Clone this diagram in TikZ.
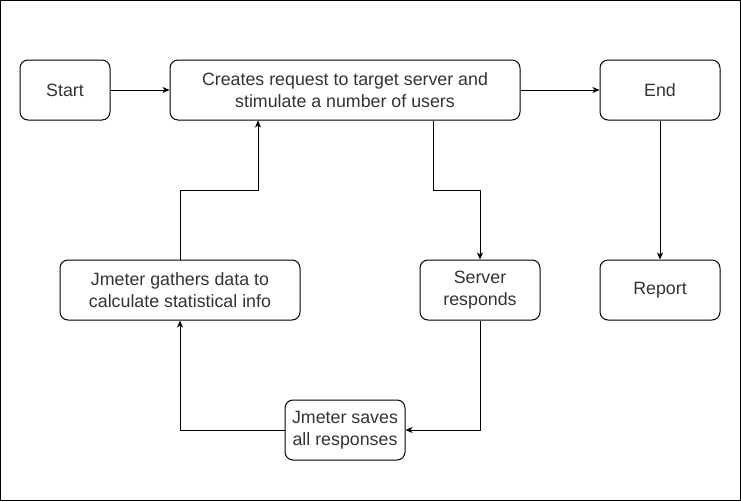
\documentclass[tikz,border=0pt]{standalone}
\usepackage{fontspec}
\setmainfont{Liberation Sans}
\usetikzlibrary{arrows.meta}
\begin{document}
\begin{tikzpicture}[x=1pt,y=-1pt,
  box/.style={draw=black,line width=1pt,rounded corners=8pt,fill=white,inner sep=0pt,
    text=black!80,font=\fontsize{17.8}{22}\selectfont,align=center},
  conn/.style={draw=black,line width=1pt,-{Stealth[length=7pt,width=6pt,inset=2pt]}}]
\draw[line width=1pt,fill=white] (0.5,0.5) rectangle (740.5,500.5);
\useasboundingbox (0,0) rectangle (741,501);
\node[box,minimum width=90pt,minimum height=60pt] (start) at (65,90) {\raisebox{-1pt}{Start}};
\node[box,minimum width=350pt,minimum height=60pt] (create) at (345,90) {Creates request to target server and\\stimulate a number of users};
\node[box,minimum width=120pt,minimum height=60pt] (end) at (660,90) {\raisebox{-1pt}{End}};
\node[box,minimum width=120pt,minimum height=60pt] (report) at (660,290) {\raisebox{-1pt}{Report}};
\node[box,minimum width=120pt,minimum height=60pt] (server) at (480,290) {Server\\responds};
\node[box,minimum width=240pt,minimum height=60pt] (gather) at (180,290) {Jmeter gathers data to\\calculate statistical info};
\node[box,minimum width=120pt,minimum height=60pt] (save) at (345,430) {Jmeter saves\\all responses};
\draw[conn] (start) -- (create);
\draw[conn] (create) -- (end);
\draw[conn] (end) -- (report);
\draw[conn] (create.south -| 433,0) -- (433,190) -| (server.north);
\draw[conn] (server.south) |- (save.east);
\draw[conn] (save.west) -| (gather.south);
\draw[conn] (gather.north) |- (258,190) -- (create.south -| 258,0);
\end{tikzpicture}
\end{document}
